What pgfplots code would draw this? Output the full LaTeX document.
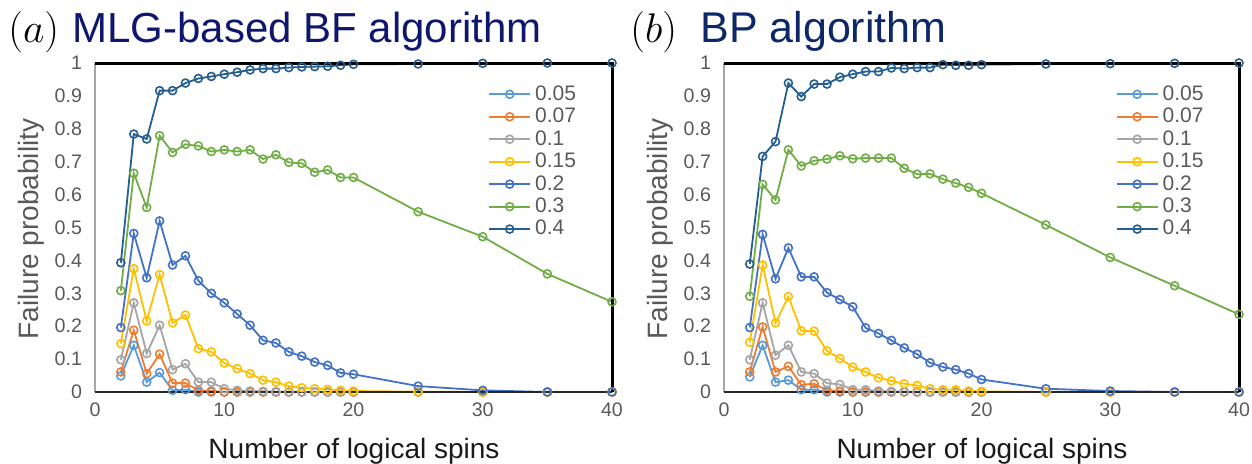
\documentclass[border=0pt]{standalone}
\usepackage{pgfplots}
\usepackage{pgfplotstable}
\pgfplotsset{compat=1.18}
\usepackage{fontspec}
\setmainfont{Liberation Sans}

\definecolor{c05}{HTML}{5B9BD5}
\definecolor{c07}{HTML}{ED7D31}
\definecolor{c10}{HTML}{A5A5A5}
\definecolor{c15}{HTML}{FFC000}
\definecolor{c20}{HTML}{4472C4}
\definecolor{c30}{HTML}{70AD47}
\definecolor{c40}{HTML}{255E91}
\definecolor{txtgray}{HTML}{595959}
\definecolor{titleA}{RGB}{14,22,110}
\definecolor{titleB}{RGB}{12,40,105}

% panel (a): MLG-based BF algorithm
\pgfplotstableread{
x  p05   p07   p10   p15   p20   p30   p40
2  0.049 0.061 0.098 0.147 0.196 0.308 0.393
3  0.142 0.188 0.271 0.375 0.482 0.665 0.784
4  0.030 0.056 0.117 0.216 0.347 0.561 0.769
5  0.059 0.115 0.203 0.357 0.520 0.779 0.916
6  0.005 0.027 0.068 0.210 0.386 0.728 0.916
7  0.007 0.027 0.086 0.234 0.414 0.753 0.939
8  0     0.005 0.030 0.132 0.338 0.748 0.953
9  0     0.003 0.030 0.122 0.300 0.731 0.959
10 0     0     0.010 0.088 0.271 0.736 0.966
11 0     0     0.005 0.071 0.237 0.731 0.972
12 0     0     0.003 0.056 0.203 0.736 0.979
13 0     0     0.002 0.036 0.157 0.708 0.983
14 0     0     0.001 0.030 0.149 0.721 0.983
15 0     0     0     0.018 0.122 0.698 0.986
16 0     0     0     0.013 0.109 0.695 0.988
17 0     0     0     0.010 0.091 0.668 0.989
18 0     0     0     0.008 0.081 0.675 0.990
19 0     0     0     0.005 0.058 0.652 0.993
20 0     0     0     0.003 0.054 0.652 0.996
25 0     0     0     0.001 0.018 0.548 0.997
30 0     0     0     0     0.005 0.472 0.999
35 0     0     0     0     0     0.359 1
40 0     0     0     0     0     0.274 1
}\dataA

% panel (b): BP algorithm
\pgfplotstableread{
x  p05   p07   p10   p15   p20   p30   p40
2  0.046 0.061 0.098 0.151 0.196 0.291 0.389
3  0.142 0.198 0.271 0.386 0.479 0.631 0.716
4  0.030 0.061 0.112 0.210 0.344 0.584 0.761
5  0.036 0.078 0.142 0.290 0.438 0.736 0.939
6  0.007 0.022 0.061 0.186 0.350 0.687 0.898
7  0.007 0.025 0.056 0.185 0.350 0.703 0.936
8  0     0.005 0.027 0.125 0.302 0.708 0.936
9  0     0.003 0.023 0.102 0.281 0.718 0.957
10 0     0     0.007 0.076 0.259 0.709 0.966
11 0     0     0.007 0.061 0.195 0.711 0.974
12 0     0     0.003 0.043 0.178 0.711 0.974
13 0     0     0.002 0.034 0.157 0.711 0.985
14 0     0     0.001 0.025 0.134 0.680 0.983
15 0     0     0     0.020 0.115 0.662 0.986
16 0     0     0     0.010 0.089 0.663 0.986
17 0     0     0     0.007 0.076 0.647 0.995
18 0     0     0     0.007 0.068 0.635 0.993
19 0     0     0     0.003 0.056 0.622 0.993
20 0     0     0     0.002 0.038 0.604 0.995
25 0     0     0     0     0.010 0.508 0.997
30 0     0     0     0     0.003 0.409 0.998
35 0     0     0     0     0     0.323 0.999
40 0     0     0     0     0     0.236 1
}\dataB

\tikzset{ser/.style={color=#1, line width=0.9pt, mark=o, mark size=2pt,
  mark options={solid, line width=0.8pt}}}

\pgfplotsset{panel/.style={
  scale only axis, height=164.5pt,
  xmin=0, xmax=40, ymin=0, ymax=1,
  xtick={0,10,20,30,40},
  ytick={0,0.1,0.2,0.3,0.4,0.5,0.6,0.7,0.8,0.9,1},
  yticklabels={0,0.1,0.2,0.3,0.4,0.5,0.6,0.7,0.8,0.9,1},
  major tick length=0pt,
  axis line style={draw=none},
  tick label style={font=\fontsize{9.8}{11}\selectfont, text=txtgray},
  /pgf/number format/assume math mode=true,
  yticklabel style={xshift=-3pt},
  xticklabel style={yshift=-2pt},
  clip=false,
  legend cell align=left,
  legend style={draw=none, fill=none, anchor=north west,
    font=\fontsize{10.5}{12}\selectfont, text=txtgray,
    row sep=-1.6pt, inner sep=0pt},
  legend image code/.code={\draw[mark repeat=2,mark phase=2]
    plot coordinates {(0cm,0cm) (0.36cm,0cm) (0.72cm,0cm)};},
}}

\newcommand{\frameit}{%
  \draw[c10, line width=1.3pt] (rel axis cs:0,0) -- (rel axis cs:0,1);
  \draw[black!85, line width=1pt] (rel axis cs:0,0) -- (rel axis cs:1,0);
  \draw[black, line width=1.5pt] (rel axis cs:0,1) -- (rel axis cs:1,1) -- (rel axis cs:1,0);
}

\begin{document}
\begin{tikzpicture}
\path[use as bounding box] (0,0) rectangle (626pt,231.5pt);

\begin{axis}[panel, at={(47.5pt,35.5pt)}, anchor=south west, width=258.5pt,
  legend style={at={(0.76,0.945)}}]
  \addplot[ser=c05] table[x=x,y=p05] {\dataA};
  \addplot[ser=c07] table[x=x,y=p07] {\dataA};
  \addplot[ser=c10] table[x=x,y=p10] {\dataA};
  \addplot[ser=c15] table[x=x,y=p15] {\dataA};
  \addplot[ser=c20] table[x=x,y=p20] {\dataA};
  \addplot[ser=c30] table[x=x,y=p30] {\dataA};
  \addplot[ser=c40] table[x=x,y=p40] {\dataA};
  \legend{0.05,0.07,0.1,0.15,0.2,0.3,0.4}
  \frameit
\end{axis}

\begin{axis}[panel, at={(362pt,35.5pt)}, anchor=south west, width=257.5pt,
  legend style={at={(0.76,0.945)}}]
  \addplot[ser=c05] table[x=x,y=p05] {\dataB};
  \addplot[ser=c07] table[x=x,y=p07] {\dataB};
  \addplot[ser=c10] table[x=x,y=p10] {\dataB};
  \addplot[ser=c15] table[x=x,y=p15] {\dataB};
  \addplot[ser=c20] table[x=x,y=p20] {\dataB};
  \addplot[ser=c30] table[x=x,y=p30] {\dataB};
  \addplot[ser=c40] table[x=x,y=p40] {\dataB};
  \legend{0.05,0.07,0.1,0.15,0.2,0.3,0.4}
  \frameit
\end{axis}

% titles
\node[anchor=base west, inner sep=0pt] at (4pt,210.5pt) {\fontsize{20}{22}\selectfont$(a)$};
\node[anchor=base west, inner sep=0pt, text=titleA] at (36pt,210.5pt)
  {\fontsize{21}{24}\selectfont MLG-based BF algorithm};
\node[anchor=base west, inner sep=0pt] at (315pt,210.5pt) {\fontsize{20}{22}\selectfont$(b)$};
\node[anchor=base west, inner sep=0pt, text=titleB] at (350pt,210.5pt)
  {\fontsize{21.5}{24}\selectfont BP algorithm};

% axis labels
\node[rotate=90, text=txtgray, inner sep=0pt] at (15.5pt,117pt)
  {\fontsize{14}{16}\selectfont Failure probability};
\node[rotate=90, text=txtgray, inner sep=0pt] at (330pt,117pt)
  {\fontsize{14}{16}\selectfont Failure probability};
\node[anchor=base, inner sep=0pt, text=black!90] at (177pt,2.5pt)
  {\fontsize{14}{16}\selectfont Number of logical spins};
\node[anchor=base, inner sep=0pt, text=black!90] at (491pt,2.5pt)
  {\fontsize{14}{16}\selectfont Number of logical spins};
\end{tikzpicture}
\end{document}
